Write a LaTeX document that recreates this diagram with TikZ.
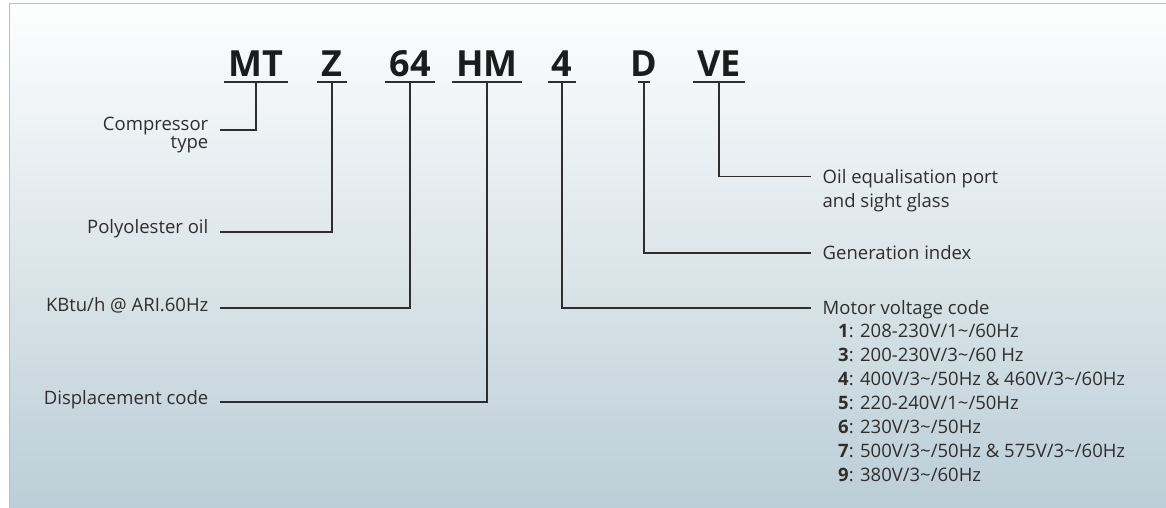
\documentclass[tikz,border=0pt]{standalone}
\usepackage{fontspec}
\setmainfont{Open Sans}
\usepackage{xcolor}
\usepackage{tikz}

\definecolor{inkgrey}{HTML}{2E2E2E}
\definecolor{codeblack}{HTML}{1C1C1C}
\definecolor{paneltop}{HTML}{FDFEFE}
\definecolor{panelbot}{HTML}{BCCED7}
\definecolor{framegrey}{HTML}{BDBDBD}

\tikzset{
  code/.style={font=\fontsize{36}{36}\selectfont\bfseries, text=codeblack,
    anchor=base, text depth=0pt, inner xsep=4pt, inner ysep=5pt},
  uline/.style={draw=inkgrey, line width=2pt},
  conn/.style={draw=inkgrey, line width=1.8pt},
  lbl/.style={font=\fontsize{18.5}{24}\selectfont, text=inkgrey,
    inner xsep=11.5pt, inner ysep=0pt},
}

\begin{document}
\begin{tikzpicture}[x=1pt,y=-1pt]
				\useasboundingbox (0,0) rectangle (1166,508);
				\shade[top color=paneltop, bottom color=panelbot] (9,4) rectangle (1166,508);
				\draw[framegrey, line width=1pt] (9,508) -- (9,4) -- (1166,4);
				
				% model code
				\node[code] (MT) at (256,77) {MT};
				\node[code] (Z) at (332,77) {Z};
				\node[code] (N64) at (410,77) {64};
				\node[code] (HM) at (487,77) {HM};
				\node[code] (V4) at (562,77) {4};
				\node[code] (D) at (644,77) {D};
				\node[code] (VE) at (719,77) {VE};
				
				\foreach \c in {MT,Z,N64,HM,V4,VE}
					\draw[uline] (\c.south west) -- (\c.south east);
				\draw[uline] ([xshift=-6pt]D.south) -- ([xshift=6pt]D.south);
				
				% left labels (base = last line)
				\node[lbl, align=right, anchor=base east, font=\fontsize{18.5}{17.5}\selectfont] (type) at (220,148) {Compressor\\type};
				\node[lbl, anchor=base east] (oil) at (220,233) {Polyolester oil};
				\node[lbl, anchor=base east] (cap) at (220,311) {KBtu/h @ ARI.60Hz};
				\node[lbl, anchor=base east] (disp) at (220,404) {Displacement code};
				
				% right labels
				\node[lbl, align=left, anchor=base west] (port) at (811,207) {Oil equalisation port\\and sight glass};
				\node[lbl, anchor=base west] (gen) at (811,259) {Generation index};
				\node[lbl, anchor=base west] (volt) at (811,314) {Motor voltage code};
				\node[lbl, align=left, anchor=base west, inner xsep=0pt] (list) at (838,481) {%
					\textbf{1}: 208-230V/1\textasciitilde/60Hz\\
					\textbf{3}: 200-230V/3\textasciitilde/60 Hz\\
					\textbf{4}: 400V/3\textasciitilde/50Hz \& 460V/3\textasciitilde/60Hz\\
					\textbf{5}: 220-240V/1\textasciitilde/50Hz\\
					\textbf{6}: 230V/3\textasciitilde/50Hz\\
					\textbf{7}: 500V/3\textasciitilde/50Hz \& 575V/3\textasciitilde/60Hz\\
					\textbf{9}: 380V/3\textasciitilde/60Hz};
				
				% connectors
				\draw[conn] (MT.south) |- ([yshift=18pt]type.base east);
				\draw[conn] (Z.south) |- ([yshift=1pt]oil.base east);
				\draw[conn] (N64.south) |- ([yshift=3pt]cap.base east);
				\draw[conn] (HM.south) |- ([yshift=2pt]disp.base east);
				\draw[conn] (V4.south) |- ([yshift=6pt]volt.base west);
				\draw[conn] (D.south) |- ([yshift=6pt]gen.base west);
				\draw[conn] (VE.south) |- ([yshift=30.5pt]port.base west);
\end{tikzpicture}
\end{document}
